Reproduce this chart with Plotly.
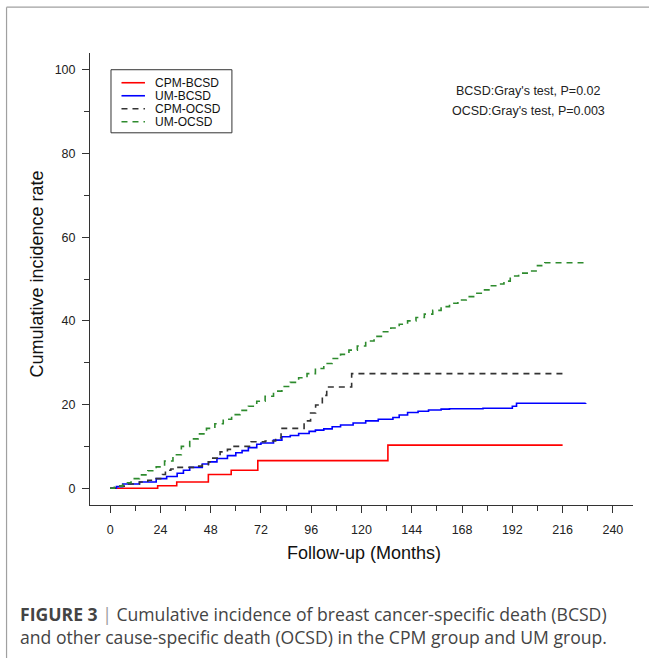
import plotly.graph_objects as go

# ---------------- data ----------------
series_names = ["CPM-BCSD", "UM-BCSD", "CPM-OCSD", "UM-OCSD"]
series_colors = ["#ff0000", "#0000ff", "#333333", "#2e8b2e"]
series_dash = ["solid", "solid", "dash", "dash"]

cpm_bcsd_month = [0, 22.7, 31.8, 46.9, 57.8, 70.5, 132.6, 216]
cpm_bcsd_value = [0, 0.6, 1.5, 3.3, 4.3, 6.6, 10.3, 10.3]

um_bcsd_month = [0, 3, 6, 14, 22, 27, 32, 35, 38, 44, 47, 51, 56, 60, 63, 66, 70, 72, 78, 82,
                 86, 90, 95, 98, 102, 106, 110, 116, 122, 128, 135, 138, 142, 147, 152, 158,
                 162, 178, 190.5, 192, 194, 227]
um_bcsd_value = [0, 0.4, 1.0, 1.5, 2.3, 2.8, 3.6, 4.3, 5.0, 5.8, 6.3, 7.1, 7.8, 8.5, 9.0, 9.7,
                 10.5, 10.8, 11.5, 12.3, 12.6, 13.1, 13.6, 13.9, 14.2, 14.7, 15.1, 15.6, 16.1,
                 16.5, 16.9, 17.5, 18.1, 18.4, 18.7, 18.9, 19.0, 19.1, 19.1, 19.6, 20.3, 20.4]

cpm_ocsd_month = [0, 3, 8, 14, 18, 22, 25, 26.4, 29, 31.5, 41, 44, 46.9, 49, 52.5, 56, 58.5,
                  67.3, 74, 79, 81.6, 92.6, 95.7, 98.1, 101.3, 103.4, 115.3, 216]
cpm_ocsd_value = [0, 0.5, 1.0, 1.5, 1.9, 2.3, 3.3, 4.3, 4.6, 5.0, 5.3, 5.6, 6.3, 7.2, 8.7,
                  9.3, 10.0, 11.1, 11.3, 12.0, 14.3, 16.1, 18.0, 19.9, 22.2, 24.2, 27.4, 27.4]

um_ocsd_month = [0, 2, 6, 10, 14, 18, 22, 26, 30, 34, 38, 42, 46, 50, 54, 58, 62, 66, 70, 74,
                 78, 82, 86, 90, 94, 98, 102, 106, 110, 114, 118, 122, 126, 130, 134, 138, 142,
                 146, 150, 154, 158, 162, 166, 170, 174, 178, 182, 186, 188, 191, 195, 200,
                 204, 207.5, 227]
um_ocsd_value = [0, 0.5, 1.3, 2.3, 3.2, 4.2, 5.1, 6.5, 8.0, 10.0, 11.8, 13.0, 14.3, 15.4, 16.5,
                 17.6, 18.6, 19.6, 20.8, 22.0, 23.2, 24.3, 25.3, 26.4, 27.4, 28.6, 29.8, 31.0,
                 32.0, 33.0, 34.0, 35.2, 36.3, 37.4, 38.3, 39.2, 40.0, 40.8, 41.6, 42.5, 43.4,
                 44.2, 45.0, 45.8, 46.6, 47.4, 48.4, 48.8, 49.5, 50.7, 51.4, 51.9, 53.2, 53.9,
                 53.9]

x_tick_vals = [0, 24, 48, 72, 96, 120, 144, 168, 192, 216, 240]
y_tick_vals = [0, 20, 40, 60, 80, 100]

stats_lines = ["BCSD:Gray's test, P=0.02", "OCSD:Gray's test, P=0.003"]
x_title = "Follow-up (Months)"
y_title = "Cumulative incidence rate"
caption_1 = "Cumulative incidence of breast cancer-specific death (BCSD)"
caption_2 = "and other cause-specific death (OCSD) in the CPM group and UM group."

# ---------------- layout geometry (pixels) ----------------
W, H = 649, 658
PL, PR, PT, PB = 90, 633.3, 53.3, 504.7   # plot area edges in px


def px_x(px):
    return (px - PL) / (PR - PL)


def px_y(py):
    return (PB - py) / (PB - PT)


FONT = "Liberation Sans, Arial, sans-serif"
CAP_FONT = "Open Sans, Noto Sans, sans-serif"

fig = go.Figure()
all_x = [cpm_bcsd_month, um_bcsd_month, cpm_ocsd_month, um_ocsd_month]
all_y = [cpm_bcsd_value, um_bcsd_value, cpm_ocsd_value, um_ocsd_value]
for name, color, dash, xs, ys in zip(series_names, series_colors, series_dash, all_x, all_y):
    fig.add_trace(go.Scatter(
        x=xs, y=ys, name=name, mode="lines", line_shape="hv",
        line=dict(color=color, width=1.6, dash=("6px,5px" if dash == "dash" else "solid")),
        showlegend=False, hoverinfo="skip",
    ))

axis_common = dict(
    showgrid=False, zeroline=False, showline=True, linecolor="#333333", linewidth=1,
    ticks="outside", ticklen=7, tickwidth=1, tickcolor="#333333",
    tickfont=dict(family=FONT, size=12.5, color="#222222"),
)
fig.update_xaxes(range=[-9.6, 249.6], tickvals=x_tick_vals, ticklabelstandoff=6,
                 minor=dict(dtick=12, tick0=0, ticks="outside", ticklen=5, tickcolor="#333333"),
                 **axis_common)
fig.update_yaxes(range=[-4, 104], tickvals=y_tick_vals, ticklabelstandoff=4,
                 minor=dict(dtick=10, tick0=0, ticks="outside", ticklen=5, tickcolor="#333333"),
                 **axis_common)

shapes = []
annotations = []

# figure frame (top + left gray lines)
shapes.append(dict(type="line", xref="paper", yref="paper", x0=px_x(6.5), x1=px_x(W + 5),
                   y0=px_y(7.5), y1=px_y(7.5), line=dict(color="#a0a0a0", width=1.2)))
shapes.append(dict(type="line", xref="paper", yref="paper", x0=px_x(6.5), x1=px_x(6.5),
                   y0=px_y(7.5), y1=px_y(H + 5), line=dict(color="#a0a0a0", width=1.2)))

# legend box (manual)
shapes.append(dict(type="rect", xref="paper", yref="paper", x0=px_x(111), x1=px_x(232),
                   y0=px_y(133), y1=px_y(70), line=dict(color="#333333", width=1)))
legend_rows = [83.0, 96.0, 109.0, 122.0]
for name, color, dash, row in zip(series_names, series_colors, series_dash, legend_rows):
    shapes.append(dict(type="line", xref="paper", yref="paper", x0=px_x(121.5), x1=px_x(145),
                       y0=px_y(row), y1=px_y(row),
                       line=dict(color=color, width=1.6, dash=("6px,5px" if dash == "dash" else "solid"))))
    annotations.append(dict(xref="paper", yref="paper", x=px_x(154), y=px_y(row), text=name,
                            showarrow=False, xanchor="left", yanchor="middle", height=12,
                            borderpad=0,
                            font=dict(family=FONT, size=12, color="#111111")))

# stats text
for txt, row in zip(stats_lines, [91.7, 111.7]):
    annotations.append(dict(xref="paper", yref="paper", x=px_x(528.5), y=px_y(row), text=txt,
                            showarrow=False, xanchor="center", yanchor="middle",
                            font=dict(family=FONT, size=12.5, color="#222222")))

# axis titles
annotations.append(dict(xref="paper", yref="paper", x=px_x(364), y=px_y(553), text=x_title,
                        showarrow=False, xanchor="center", yanchor="middle",
                        font=dict(family=FONT, size=18, color="#111111")))
annotations.append(dict(xref="paper", yref="paper", x=px_x(37), y=px_y(274.5), text=y_title,
                        showarrow=False, xanchor="center", yanchor="middle", textangle=-90,
                        font=dict(family=FONT, size=18, color="#111111")))

# caption
annotations.append(dict(xref="paper", yref="paper", x=px_x(18), y=px_y(614),
                        text="<b>FIGURE 3</b> <span style='color:#9a9a9a'>|</span> " + caption_1,
                        showarrow=False, xanchor="left", yanchor="middle",
                        font=dict(family=CAP_FONT, size=17.6, color="#444444")))
annotations.append(dict(xref="paper", yref="paper", x=px_x(18), y=px_y(637), text=caption_2,
                        showarrow=False, xanchor="left", yanchor="middle",
                        font=dict(family=CAP_FONT, size=17.6, color="#444444")))

fig.update_layout(
    width=W, height=H,
    margin=dict(l=PL, r=W - PR, t=PT, b=H - PB, autoexpand=False),
    paper_bgcolor="white", plot_bgcolor="white",
    shapes=shapes, annotations=annotations, showlegend=False,
    font=dict(family=FONT),
)

fig.write_html("out.html", config={"displayModeBar": False, "staticPlot": True},
               post_script="document.body.style.margin='0';document.body.style.overflow='hidden';")
